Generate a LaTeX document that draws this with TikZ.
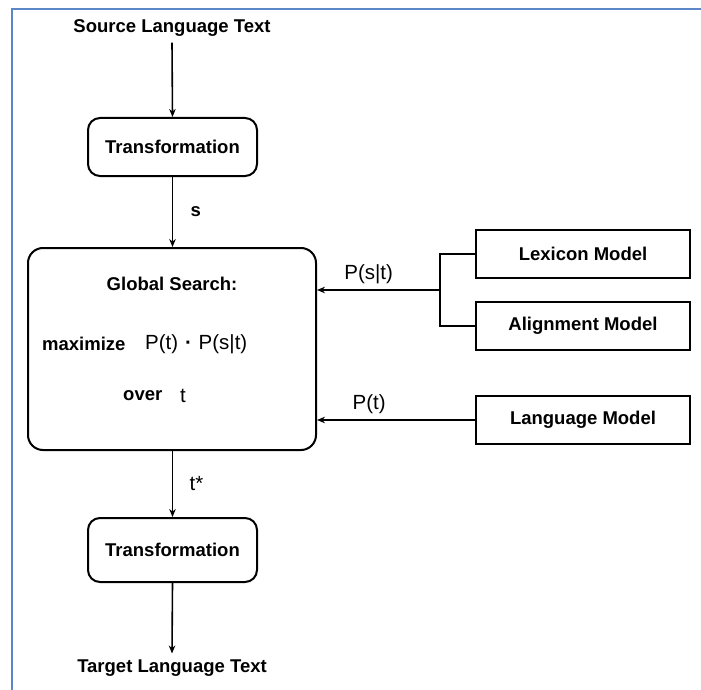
\documentclass[tikz,border=0pt]{standalone}
\usepackage{fontspec}
\setmainfont{Liberation Sans}
\usetikzlibrary{arrows.meta}
\definecolor{frameblue}{RGB}{91,135,200}
\tikzset{
  bt/.style={font=\fontsize{18.5}{22}\selectfont\bfseries},
  rt/.style={font=\fontsize{20.5}{24}\selectfont},
  rbox/.style={draw, line width=2pt, rounded corners=12pt, inner sep=0pt, bt},
  mbox/.style={draw, line width=2pt, inner sep=0pt, minimum width=214pt, minimum height=48pt, bt},
  arr/.style={line width=1.6pt, -{Stealth[length=8pt,width=6.5pt]}},
  conn/.style={line width=1.6pt},
}
\begin{document}
\begin{tikzpicture}[x=1pt,y=-1pt]
\useasboundingbox (0,0) rectangle (701,690);
\draw[frameblue, line width=2pt] (12,690) -- (12,9) -- (701,9);

\node[bt, inner sep=6pt] (src) at (172,28) {Source Language Text};
\node[rbox, minimum width=169pt, minimum height=58pt] (tr1) at (172.5,147) {Transformation};
\node[rbox, rounded corners=15pt, minimum width=288pt, minimum height=202pt] (gs) at (172,349) {};
\node[bt] (gst) at (172,284) {Global Search:};
\node[bt, anchor=west, inner sep=0pt] (maxi) at (42,344) {maximize};
\node[rt, anchor=west, inner sep=0pt] (expr) at (145,344) {P(t)\,\,\textbf{·}\,\,P(s|t)};
\node[bt, anchor=west, inner sep=0pt] (over) at (123,396) {over};
\node[rt, anchor=west, inner sep=0pt] (overt) at (180,396) {t};

\node[mbox] (lex) at (583,254) {Lexicon Model};
\node[mbox] (ali) at (583,326) {Alignment Model};
\node[mbox] (lang) at (583,420) {Language Model};

\node[rbox, minimum width=169pt, minimum height=64pt] (tr2) at (172.5,550) {Transformation};
\node[bt, inner sep=6pt] (tgt) at (172,668) {Target Language Text};

\draw[arr] (src.south) -- (tr1.north);
\draw[arr] (tr1.south) -- node[bt, right=14pt] (slab) {s} (gs.north -| tr1.south);

\coordinate (j) at (440,290);
\draw[conn] (lex.west) -| (j) |- (ali.west);
\draw[arr] (j) -- node[rt, above=2pt, pos=0.58] (pst) {P(s|t)} (j -| gs.east);
\draw[arr] (lang.west) -- node[rt, above=2pt, pos=0.67] (pt) {P(t)} (lang.west -| gs.east);

\draw[arr] (gs.south -| tr2.north) -- node[rt, right=13pt] (tstar) {t*} (tr2.north);
\draw[arr] (tr2.south) -- (tgt.north);
\end{tikzpicture}
\end{document}
